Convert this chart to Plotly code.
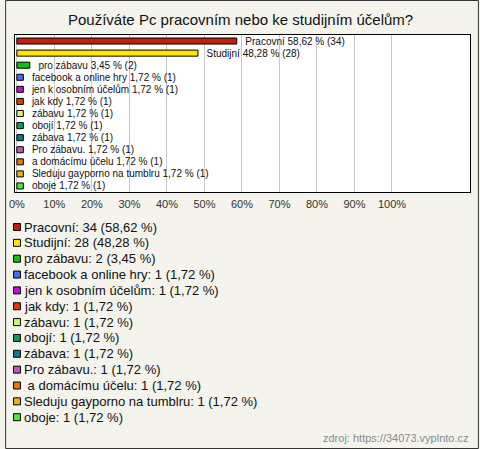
import plotly.graph_objects as go

categories = ["Pracovní", "Studijní", " pro zábavu", "facebook a online hry",
              "jen k osobním účelům", "jak kdy", "zábavu", "obojí", "zábava",
              "Pro zábavu.", " a domácímu účelu", "Sleduju gayporno na tumblru", "oboje"]
legend_names = ["Pracovní", "Studijní", "pro zábavu", "facebook a online hry",
                "jen k osobním účelům", "jak kdy", "zábavu", "obojí", "zábava",
                "Pro zábavu.", " a domácímu účelu", "Sleduju gayporno na tumblru", "oboje"]
counts = [34, 28, 2, 1, 1, 1, 1, 1, 1, 1, 1, 1, 1]
percents = [58.62, 48.28, 3.45, 1.72, 1.72, 1.72, 1.72, 1.72, 1.72, 1.72, 1.72, 1.72, 1.72]
colors = ["#c0200c", "#ffe600", "#14be14", "#4070f0", "#be14d2", "#dc3c0a",
          "#c8fa78", "#149664", "#14788c", "#be5abe", "#e67808", "#e6b40a", "#50e63c"]
tick_vals = [0, 10, 20, 30, 40, 50, 60, 70, 80, 90, 100]
tick_text = [f"{v}%" for v in tick_vals]
title = "Používáte Pc pracovním nebo ke studijním účelům?"
source = "zdroj: https://34073.vyplnto.cz"

W, H = 480, 449
ML, MR, MT, MB = 10, 9, 35, 257
PW, PH = W - ML - MR, H - MT - MB
FONT = "Liberation Sans, Arial, sans-serif"


def px(x):
    return (x - ML) / PW


def py(y):
    return 1 - (y - MT) / PH


def fmt(v):
    return f"{v:.2f}".replace(".", ",")


ypos = list(range(len(categories)))
bar_text = [f"\u00a0\u00a0{c.strip()} {fmt(p)} % ({n})"
            for c, p, n in zip(categories, percents, counts)]

fig = go.Figure()
fig.add_trace(go.Bar(
    x=percents, y=ypos, orientation="h",
    marker=dict(color=colors, line=dict(color="#000000", width=1)),
    width=0.5,
    text=bar_text, textposition="outside", cliponaxis=False, constraintext="none",
    textangle=0,
    textfont=dict(family=FONT, size=10, color="#111111"),
    hoverinfo="skip", showlegend=False,
))

annotations = [
    dict(text=title, xref="paper", yref="paper", x=px(238), y=py(19),
         xanchor="center", yanchor="middle", showarrow=False,
         font=dict(family=FONT, size=15, color="#111111")),
    dict(text=source, xref="paper", yref="paper", x=px(472), y=py(438),
         xanchor="right", yanchor="middle", showarrow=False,
         font=dict(family=FONT, size=11, color="#8a8a8a")),
]
shapes = [
    dict(type="rect", xref="paper", yref="paper",
         x0=px(0.5), x1=px(W - 0.5), y0=py(H - 0.5), y1=py(0.5),
         line=dict(color="#333333", width=1), fillcolor="rgba(0,0,0,0)", layer="below"),
]

leg_y0, leg_dy = 227, 15.85
for i, (name, n, p, c) in enumerate(zip(legend_names, counts, percents, colors)):
    yc = leg_y0 + i * leg_dy
    annotations.append(dict(
        text=f"{name}: {n} ({fmt(p)} %)", xref="paper", yref="paper",
        x=px(17), y=py(yc), xanchor="left", yanchor="middle", showarrow=False,
        font=dict(family=FONT, size=13, color="#111111")))
    shapes.append(dict(type="rect", xref="paper", yref="paper",
                       x0=px(8.5), x1=px(15.5), y0=py(yc + 3.5), y1=py(yc - 3.5),
                       fillcolor=c, line=dict(color="#000000", width=1)))

fig.update_layout(
    width=W, height=H,
    margin=dict(l=ML, r=MR, t=MT, b=MB, pad=0),
    paper_bgcolor="#f4f4ec", plot_bgcolor="#ffffff",
    xaxis=dict(range=[-0.5, 120.8], tickvals=tick_vals, ticktext=tick_text,
               showgrid=True, gridcolor="#c8c8c8", gridwidth=1, zeroline=False,
               showline=True, linecolor="#000000", linewidth=1, mirror=True,
               ticks="", ticklabelstandoff=2,
               tickfont=dict(family=FONT, size=11, color="#333333")),
    yaxis=dict(range=[12.5, -0.5], showticklabels=False, showgrid=False, zeroline=False,
               showline=True, linecolor="#000000", linewidth=1, mirror=True, ticks=""),
    annotations=annotations, shapes=shapes,
    bargap=0.5,
)

fig.write_html("out.html", config={"displayModeBar": False},
               post_script="document.body.style.margin='0';")
